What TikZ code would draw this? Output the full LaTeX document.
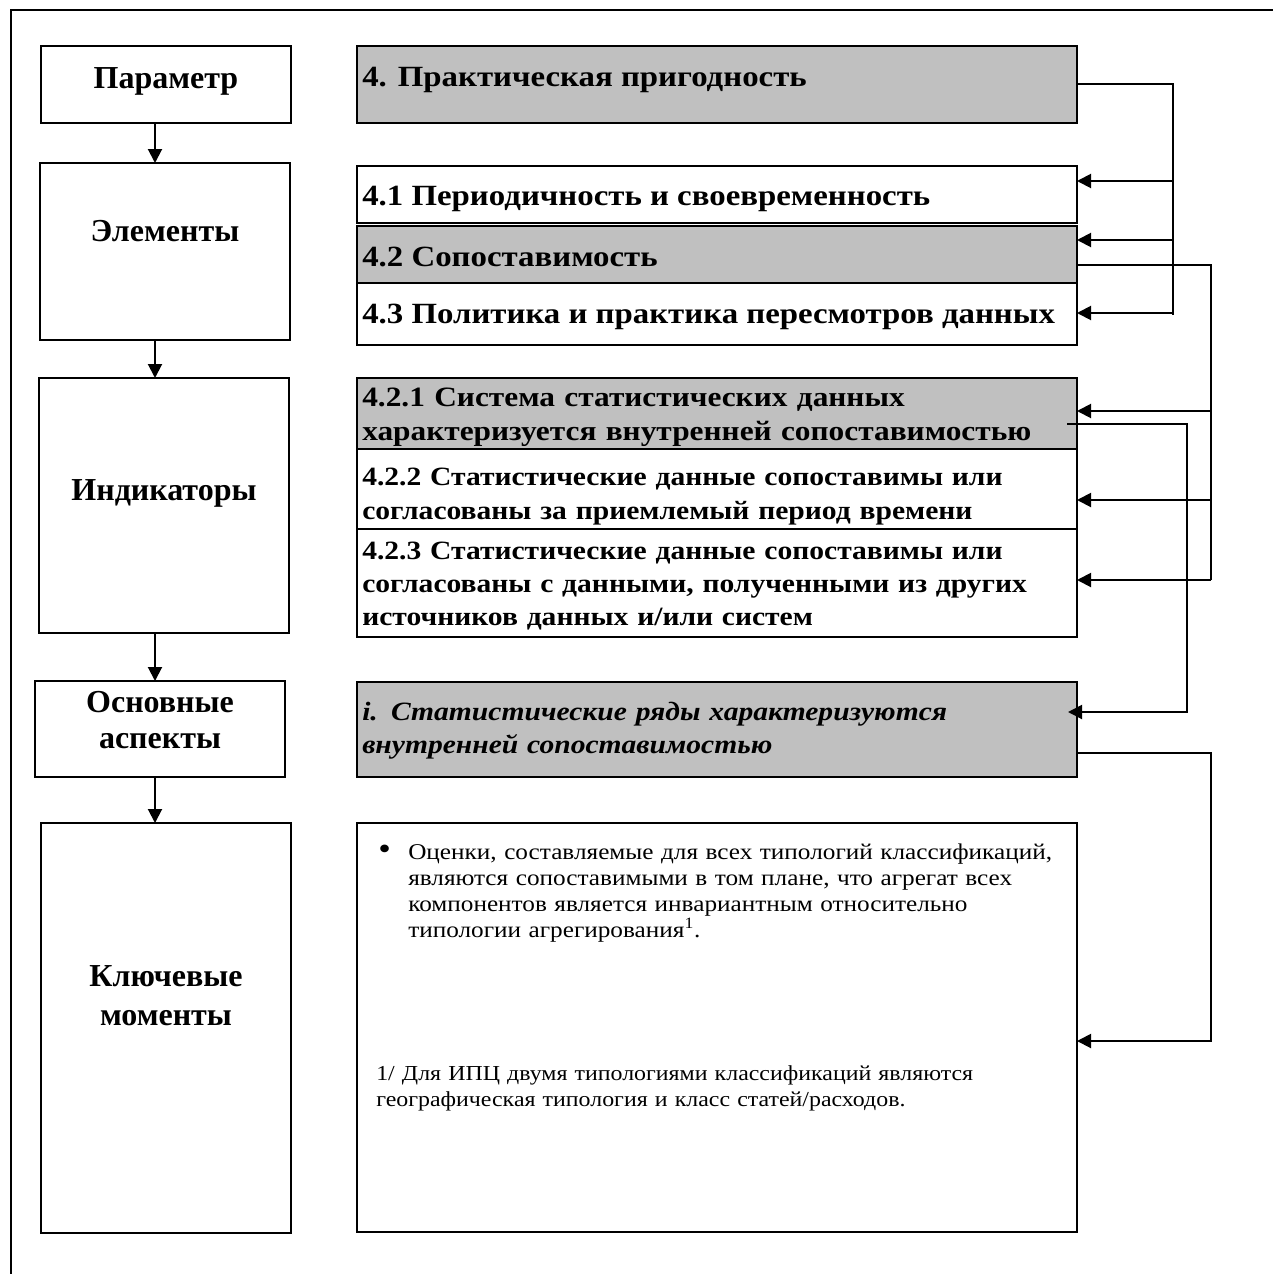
\documentclass[tikz,border=0pt]{standalone}
\usepackage{fontspec}
\setmainfont{Liberation Serif}
\newfontfamily\wideserif[FakeStretch=1.12]{Liberation Serif}
\usetikzlibrary{arrows.meta}
\definecolor{boxgray}{HTML}{C0C0C0}
\newcommand\boxat[6]{\node[#1, minimum width={(#5-#3)*0.75pt}, minimum height={(#6-#4)*0.75pt}] (#2) at ({(#3+#5)/2},{(#4+#6)/2}) {};}
\begin{document}
\begin{tikzpicture}[x=0.75pt,y=-0.75pt,
  box/.style={draw, line width=1.5pt, inner sep=0pt, outer sep=0pt},
  graybox/.style={box, fill=boxgray},
  conn/.style={line width=1.5pt},
  arr/.style={conn, -{Triangle[length=10.5pt,width=10.5pt]}},
  lbl/.style={font=\fontsize{24}{27}\selectfont\bfseries, inner sep=0pt, align=center, text width=180pt},
  hd/.style={font=\wideserif\fontsize{22}{26}\selectfont\bfseries, inner sep=0pt, anchor=base west},
  ind/.style={font=\wideserif\fontsize{19.8}{25.5}\selectfont\bfseries, inner sep=0pt, anchor=base west, text width=535pt, align=left},
  body/.style={font=\wideserif\fontsize{16.9}{19.5}\selectfont, inner sep=0pt, anchor=base west, text width=535pt, align=left},
]
\useasboundingbox (0,0) rectangle (1273,1274);
% outer frame
\draw[line width=1.5pt] (11,1274) -- (11,10) -- (1273,10);

% left column boxes
\boxat{box}{P}{41}{46}{291}{123}
\boxat{box}{E}{40}{163}{290}{340}
\boxat{box}{I}{39}{378}{289}{633}
\boxat{box}{O}{35}{681}{285}{777}
\boxat{box}{K}{41}{823}{291}{1233}

\node[lbl, anchor=base] (Pt) at (166,88) {Параметр};
\node[lbl, anchor=base] (Et) at (165,241) {Элементы};
\node[lbl, anchor=base] (It) at (164,500) {Индикаторы};
\node[lbl, anchor=base] (Ot) at (160,712) {Основные\\аспекты};
\node[lbl, anchor=base, font=\fontsize{24}{29.25}\selectfont\bfseries] (Kt) at (166,986) {Ключевые\\моменты};

% left arrows
\coordinate (ax) at (155,0);
\draw[arr] (P.south -| ax) -- (E.north -| ax);
\draw[arr] (E.south -| ax) -- (I.north -| ax);
\draw[arr] (I.south -| ax) -- (O.north -| ax);
\draw[arr] (O.south -| ax) -- (K.north -| ax);

% right column boxes
\boxat{graybox}{R4}{357}{46}{1077}{123}
\boxat{box}{R41}{357}{166}{1077}{223}
\boxat{graybox}{R42}{357}{226}{1077}{283}
\boxat{box}{R43}{357}{283}{1077}{345}
\boxat{graybox}{R421}{357}{378}{1077}{449}
\boxat{box}{R422}{357}{449}{1077}{529}
\boxat{box}{R423}{357}{529}{1077}{637}
\boxat{graybox}{Ri}{357}{682}{1077}{777}
\boxat{box}{RK}{357}{823}{1077}{1232}

\node[hd] (R4t) at (362,86) {4. Практическая пригодность};
\node[hd] (R41t) at (362,205) {4.1 Периодичность и своевременность};
\node[hd] (R42t) at (362,266) {4.2 Сопоставимость};
\node[hd] (R43t) at (362,323) {4.3 Политика и практика пересмотров данных};
\node[ind, font=\wideserif\fontsize{21}{25.5}\selectfont\bfseries] (R421t) at (362,406) {4.2.1 Система статистических данных\\характеризуется внутренней сопоставимостью};
\node[ind] (R422t) at (362,485) {4.2.2 Статистические данные сопоставимы или\\согласованы за приемлемый период времени};
\node[ind, font=\wideserif\fontsize{19.8}{24.75}\selectfont\bfseries] (R423t) at (362,559) {4.2.3 Статистические данные сопоставимы или\\согласованы с данными, полученными из других\\источников данных и/или систем};
\node[ind, font=\wideserif\fontsize{19.8}{25}\selectfont\bfseries\itshape] (Rit) at (362,720) {i. Статистические ряды характеризуются\\внутренней сопоставимостью};
\node[body] (RKb) at (408,859) {\llap{\raisebox{-0.5pt}{\fontsize{24}{24}\selectfont •}\hspace{13pt}}Оценки, составляемые для всех типологий классификаций,\\являются сопоставимыми в том плане, что агрегат всех\\компонентов является инвариантным относительно\\типологии агрегирования\textsuperscript{1}.};
\node[body, font=\wideserif\fontsize{16}{19.5}\selectfont] (RKf) at (376,1080) {1/ Для ИПЦ двумя типологиями классификаций являются\\географическая типология и класс статей/расходов.};

% connectors: bus 1
\coordinate (b1t) at (1173,84);
\coordinate (b1b) at (1173,315);
\coordinate (b1a) at (1173,181);
\coordinate (b1c) at (1173,240);
\coordinate (b1d) at (1173,313);
\draw[conn] (R4.east |- b1t) -- (b1t) -- (b1b);
\draw[arr] (b1a) -- (R41.east |- b1a);
\draw[arr] (b1c) -- (R42.east |- b1c);
\draw[arr] (b1d) -- (R43.east |- b1d);

% bus 2
\coordinate (b2t) at (1211,265);
\coordinate (b2a) at (1211,411);
\coordinate (b2c) at (1211,500);
\coordinate (b2d) at (1211,580);
\draw[conn] (R42.east |- b2t) -- (b2t) -- (b2d);
\draw[arr] (b2a) -- (R421.east |- b2a);
\draw[arr] (b2c) -- (R422.east |- b2c);
\draw[arr] (b2d) -- (R423.east |- b2d);

% bus 3
\coordinate (b3s) at (1067,424);
\coordinate (b3t) at (1187,424);
\coordinate (b3b) at (1187,712);
\coordinate (b3e) at (1068,712);
\draw[arr] (b3s) -- (b3t) -- (b3b) -- (b3e);

% bus 4
\coordinate (b4t) at (1211,753);
\coordinate (b4b) at (1211,1041);
\draw[arr] (Ri.east |- b4t) -- (b4t) -- (b4b) -- (RK.east |- b4b);
\end{tikzpicture}
\end{document}
